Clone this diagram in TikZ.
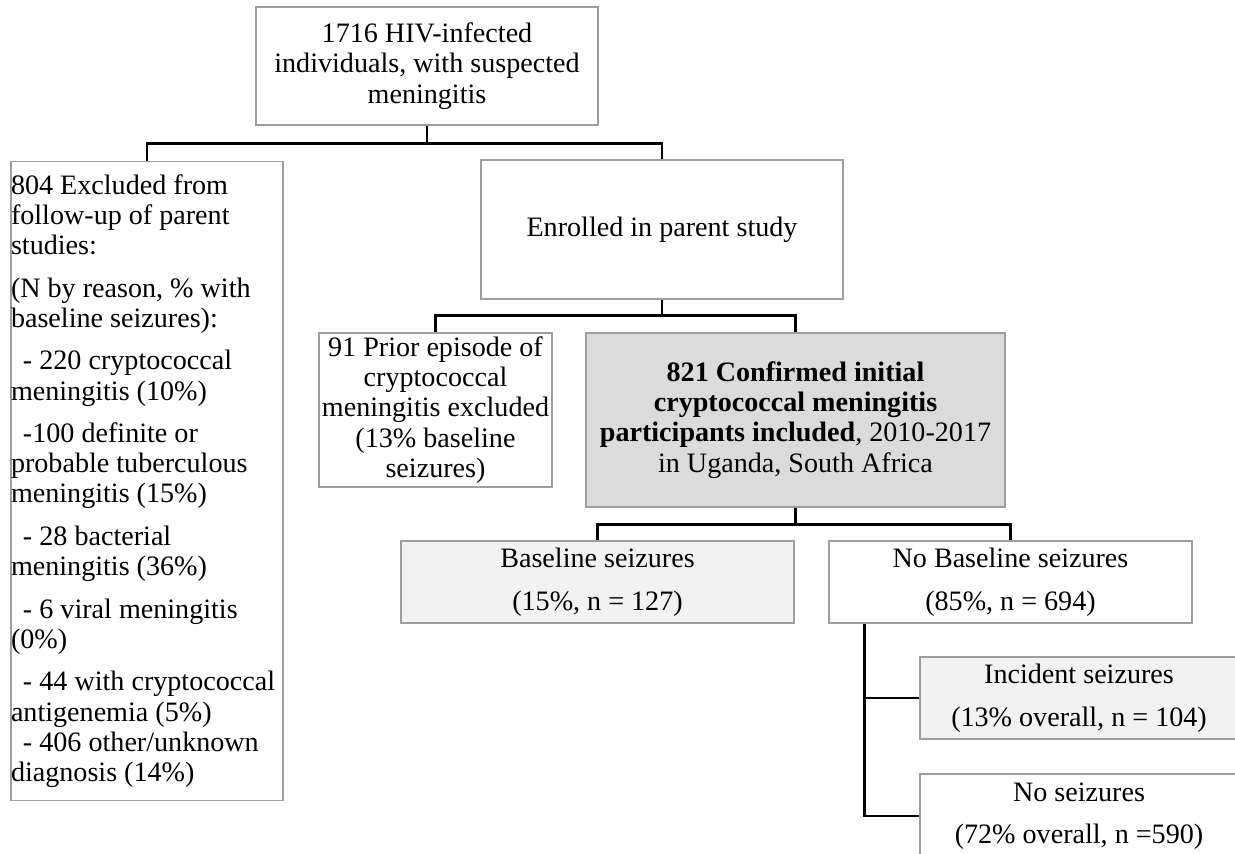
\documentclass[tikz,border=0pt]{standalone}
\usepackage{fontspec}
\setmainfont{Liberation Serif}

\newcommand{\ind}{\hspace*{0.24cm}}
\newcommand{\px}{0.02cm}
\tikzset{
  box/.style={draw=black!38,line width=0.7pt,fill=white,align=center,inner sep=0pt,
    font=\fontsize{16pt}{17.2pt}\selectfont},
  link/.style={line width=1.4pt}
}

\begin{document}
\begin{tikzpicture}[x=0.02cm,y=-0.02cm]
\useasboundingbox (0,0) rectangle (1235,854);
\fill[white] (0,0) rectangle (1235,854);
\clip (0,0) rectangle (1235,854);

\node[box,minimum width=342*\px,minimum height=118*\px] (hiv) at (427,66) {1716 HIV-infected\\individuals, with suspected\\meningitis};
\node[box,minimum width=272*\px,minimum height=639*\px,align=flush left,text width=272*\px] (excl) at (147,481) {804 Excluded from\\follow-up of parent\\studies:\\[7pt]
  (N by reason, \% with\\baseline seizures):\\[7pt]
  \ind- 220 cryptococcal\\meningitis (10\%)\\[7pt]
  \ind-100 definite or\\probable tuberculous\\meningitis (15\%)\\[7pt]
  \ind- 28 bacterial\\meningitis (36\%)\\[7pt]
  \ind- 6 viral meningitis\\(0\%)\\[7pt]
  \ind- 44 with \mbox{cryptococcal}\\antigenemia (5\%)\\
  \ind- 406 other/unknown\\diagnosis (14\%)};
\node[box,minimum width=362*\px,minimum height=139*\px] (enrol) at (662,229.5) {Enrolled in parent study};
\node[box,minimum width=233*\px,minimum height=154*\px] (prior) at (435.5,410) {91 Prior episode of\\cryptococcal\\meningitis excluded\\(13\% baseline\\seizures)};
\node[box,fill=black!14,minimum width=419*\px,minimum height=174*\px] (incl) at (795.5,420) {\textbf{821 Confirmed initial}\\\textbf{cryptococcal meningitis}\\\textbf{participants included}, 2010-2017\\in Uganda, South Africa};
\node[box,fill=black!5,minimum width=393*\px,minimum height=82*\px] (base) at (597.5,582) {Baseline seizures\\[7pt](15\%, n = 127)};
\node[box,minimum width=363*\px,minimum height=82*\px] (nobase) at (1010.5,582) {No Baseline seizures\\[7pt](85\%, n = 694)};
\node[box,fill=black!5,minimum width=318*\px,minimum height=82*\px] (incid) at (1079,698) {Incident seizures\\[7pt](13\% overall, n = 104)};
\node[box,minimum width=318*\px,minimum height=84*\px] (noseiz) at (1079,816) {No seizures\\[7pt](72\% overall, n =590)};

% tree links
\draw[link] (hiv.south) -- ++(0,18) coordinate (j1) -| (excl.north);
\draw[link] (j1) -| (enrol.north);
\draw[link] (enrol.south) -- ++(0,16) coordinate (j2) -| (prior.north);
\draw[link] (j2) -| (incl.north);
\draw[link] (incl.south) -- ++(0,17) coordinate (j3) -| (base.north);
\draw[link] (j3) -| (nobase.north);
\draw[link] (nobase.south west) ++(36,0) coordinate (j4) |- (incid.west);
\draw[link] (j4) |- (noseiz.west);
\end{tikzpicture}
\end{document}
